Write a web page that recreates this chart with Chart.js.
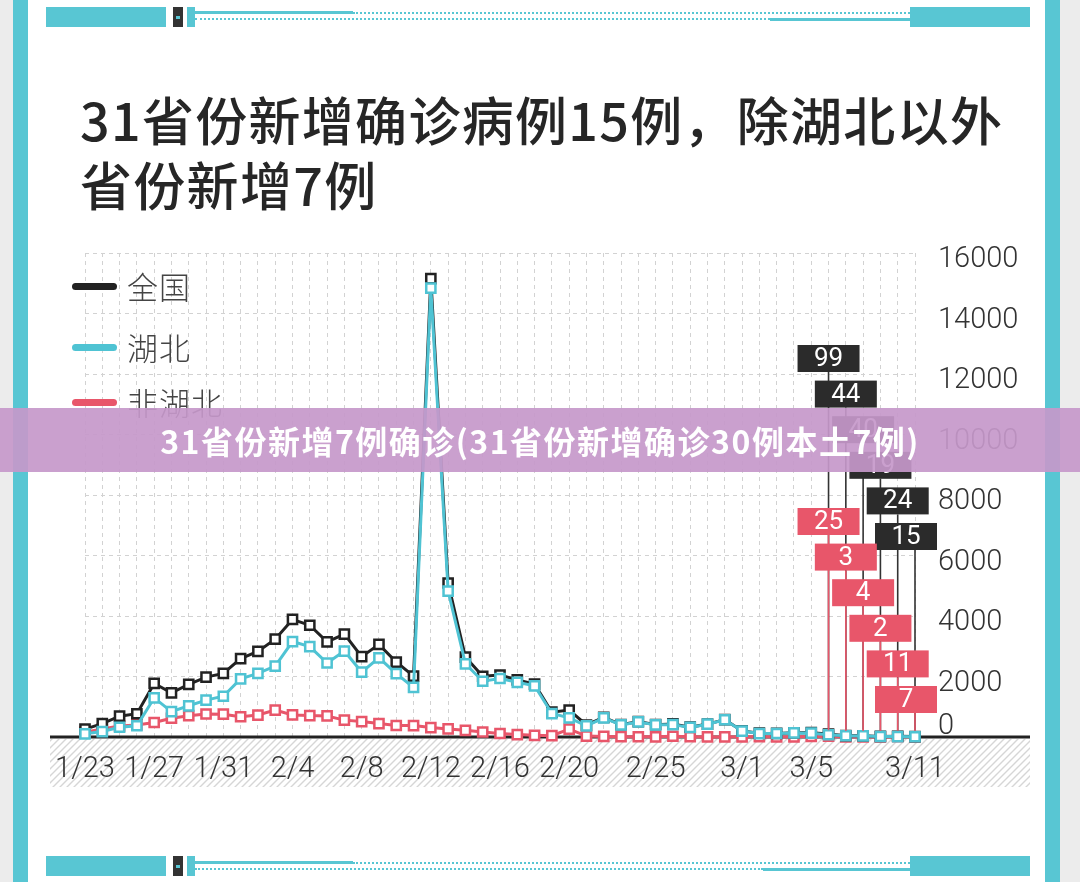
<!DOCTYPE html>
<html>
<head>
<meta charset="utf-8">
<script src="https://cdn.jsdelivr.net/npm/chart.js@4.4.1/dist/chart.umd.min.js"></script>
<style>
  html, body { margin: 0; padding: 0; }
  body { width: 1080px; height: 882px; background: #ececec; position: relative; overflow: hidden;
         font-family: "Noto Sans CJK SC", "Noto Sans", sans-serif; }
  .card { position: absolute; left: 28px; top: 0; width: 1017px; height: 882px; background: #fff; }
  .edge { position: absolute; top: 0; width: 15px; height: 882px; background: #58c6d3; }
  .band { position: absolute; left: 0; width: 1080px; height: 20px; }
  .band div { position: absolute; }
  .blk { background: #58c6d3; top: 0; height: 20px; }
  .ico { background: #333; top: 0; height: 20px; width: 10px; left: 173px; }
  .ico::after { content: ""; position: absolute; left: 3px; top: 9px; width: 4px; height: 3px; background: #58c6d3; }
  .thin { background: #58c6d3; height: 3px; }
  .dots { height: 0; border-top: 2px dotted #58c6d3; }
  .title { position: absolute; left: 80px; top: 86px; font-size: 52px; line-height: 65px;
           font-weight: 500; color: #262626; letter-spacing: 1.3px; }
  .legend { position: absolute; left: 72px; }
  .legend span.ln { position: absolute; left: 0; width: 45px; height: 7px; border-radius: 4px; }
  .legend span.tx { position: absolute; left: 55px; font-size: 31px; font-weight: 300; color: #444;
                    line-height: 40px; white-space: nowrap; letter-spacing: 1px; }
  canvas { position: absolute; left: 0; top: 0; }
  .banner { position: absolute; left: 0; top: 408px; width: 1080px; height: 64px;
            background: rgba(197, 152, 202, 0.92); color: #fff; text-align: center;
            font-size: 32px; font-weight: 700; line-height: 64px; letter-spacing: 1.5px; }
</style>
</head>
<body>
<div class="card"></div>
<div class="edge" style="left:13px"></div>
<div class="edge" style="left:1045px"></div>

<div class="band" style="top:7px">
  <div class="blk" style="left:46px;width:120px"></div>
  <div class="ico"></div>
  <div class="blk" style="left:187px;width:8px"></div>
  <div class="thin" style="left:195px;width:158px;top:4px"></div>
  <div class="dots" style="left:353px;width:557px;top:5px"></div>
  <div class="dots" style="left:195px;width:575px;top:11px"></div>
  <div class="thin" style="left:770px;width:140px;top:11px"></div>
  <div class="blk" style="left:910px;width:120px"></div>
</div>
<div class="band" style="top:856px">
  <div class="blk" style="left:46px;width:120px"></div>
  <div class="ico"></div>
  <div class="blk" style="left:187px;width:8px"></div>
  <div class="thin" style="left:195px;width:158px;top:5px"></div>
  <div class="dots" style="left:353px;width:557px;top:6px"></div>
  <div class="dots" style="left:195px;width:568px;top:12px"></div>
  <div class="thin" style="left:763px;width:147px;top:12px"></div>
  <div class="blk" style="left:910px;width:120px"></div>
</div>

<div class="title">31省份新增确诊病例15例，除湖北以外<br>省份新增7例</div>

<canvas id="covidChart" width="1080" height="882"></canvas>

<div class="legend" style="top:266px">
  <span class="ln" style="top:17px;background:#222"></span><span class="tx">全国</span>
</div>
<div class="legend" style="top:327px">
  <span class="ln" style="top:17px;background:#4fc3d3"></span><span class="tx">湖北</span>
</div>
<div class="legend" style="top:382px">
  <span class="ln" style="top:17px;background:#e8566a"></span><span class="tx">非湖北</span>
</div>

<div class="banner">31省份新增7例确诊(31省份新增确诊30例本土7例)</div>

<script>
// dates on the x axis (1/23 .. 3/11)
const dates = ['1/23','1/24','1/25','1/26','1/27','1/28','1/29','1/30','1/31',
  '2/1','2/2','2/3','2/4','2/5','2/6','2/7','2/8','2/9','2/10','2/11','2/12','2/13','2/14',
  '2/15','2/16','2/17','2/18','2/19','2/20','2/21','2/22','2/23','2/24','2/25','2/26','2/27',
  '2/28','2/29','3/1','3/2','3/3','3/4','3/5','3/6','3/7','3/8','3/9','3/10','3/11'];

// labels actually printed under the axis
const shownDates = ['1/23','1/27','1/31','2/4','2/8','2/12','2/16','2/20','2/25','3/1','3/5','3/11'];

// daily new confirmed cases
const national = [259, 444, 688, 769, 1771, 1459, 1737, 1981, 2102,
  2590, 2829, 3235, 3887, 3694, 3143, 3399, 2656, 3062, 2478, 2015, 15152, 5090, 2641,
  2009, 2048, 1886, 1749, 820, 889, 397, 648, 409, 508, 406, 433, 327,
  427, 573, 202, 125, 119, 139, 143, 99, 44, 40, 19, 24, 15];

const hubei = [105, 180, 323, 371, 1291, 840, 1032, 1220, 1347,
  1921, 2103, 2345, 3156, 2987, 2447, 2841, 2147, 2618, 2097, 1638, 14840, 4823, 2420,
  1843, 1933, 1807, 1693, 775, 631, 366, 630, 398, 499, 401, 409, 318,
  423, 570, 196, 114, 115, 134, 126, 74, 41, 36, 17, 13, 8];

const otherProvinces = [154, 264, 365, 398, 480, 619, 705, 761, 755,
  669, 726, 890, 731, 707, 696, 558, 509, 444, 381, 377, 312, 267, 221,
  166, 115, 79, 56, 45, 258, 31, 18, 11, 9, 5, 24, 9,
  4, 3, 6, 11, 4, 5, 17, 25, 3, 4, 2, 11, 7];

// y axis
const yMin = 0;
const yMax = 16000;
const yStep = 2000;

// how many of the last days get a value box
const boxedDays = 6;

const BLACK = '#222222';
const CYAN = '#4fc3d3';
const RED = '#e8566a';

Chart.defaults.font.family = 'Roboto, "Liberation Sans", sans-serif';
Chart.defaults.color = '#333';

// hatched band under the x axis and the thick black base line
const axisDecor = {
    id: 'axisDecor',
    beforeDraw(chart) {
        const ctx = chart.ctx;
        const y0 = chart.scales.y.getPixelForValue(0);
        const pat = document.createElement('canvas');
        pat.width = 7; pat.height = 7;
        const p = pat.getContext('2d');
        p.strokeStyle = '#d6d6d6';
        p.lineWidth = 1.4;
        p.beginPath();
        p.moveTo(-1, 8); p.lineTo(8, -1);
        p.moveTo(-1, 1); p.lineTo(1, -1);
        p.moveTo(6, 8); p.lineTo(8, 6);
        p.stroke();
        ctx.save();
        ctx.fillStyle = ctx.createPattern(pat, 'repeat');
        ctx.fillRect(50, y0 + 2, 980, 48);
        ctx.restore();
    },
    beforeDatasetsDraw(chart) {
        const ctx = chart.ctx;
        const y0 = chart.scales.y.getPixelForValue(0);
        ctx.save();
        ctx.strokeStyle = BLACK;
        ctx.lineWidth = 3;
        ctx.beginPath();
        ctx.moveTo(50, y0);
        ctx.lineTo(1030, y0);
        ctx.stroke();
        ctx.restore();
    }
};

// staircase of value boxes for the last days
const valueBoxes = {
    id: 'valueBoxes',
    afterDatasetsDraw(chart) {
        const ctx = chart.ctx;
        const xs = chart.scales.x;
        const ys = chart.scales.y;
        const area = chart.chartArea;
        const w = 62, h = 27, step = 35.6;
        const start = dates.length - boxedDays;
        const rightLimit = area.right + 22;

        const boxes = [];
        for (let k = 0; k < boxedDays; k++) {
            const i = start + k;
            const x = xs.getPixelForValue(i);
            let cx = x;
            if (cx + w / 2 > rightLimit) cx = rightLimit - w / 2;
            boxes.push({
                x: x, cx: cx,
                blackTop: area.top + 92 + k * step,
                redTop: area.top + 255 + k * step,
                blackY: ys.getPixelForValue(national[i]),
                redY: ys.getPixelForValue(otherProvinces[i]),
                blackText: String(national[i]),
                redText: String(otherProvinces[i])
            });
        }

        ctx.save();
        ctx.lineWidth = 1.6;
        boxes.forEach(b => {
            ctx.strokeStyle = '#333';
            ctx.beginPath();
            ctx.moveTo(b.x, b.blackTop + h);
            ctx.lineTo(b.x, b.blackY - 6);
            ctx.stroke();
        });
        boxes.forEach(b => {
            ctx.strokeStyle = RED;
            ctx.beginPath();
            ctx.moveTo(b.x, b.redTop + h);
            ctx.lineTo(b.x, b.redY - 6);
            ctx.stroke();
        });

        ctx.font = '26px Roboto, "Liberation Sans", sans-serif';
        ctx.textAlign = 'center';
        ctx.textBaseline = 'middle';
        boxes.forEach(b => {
            ctx.fillStyle = '#2b2b2b';
            ctx.fillRect(b.cx - w / 2, b.blackTop, w, h);
            ctx.fillStyle = '#fff';
            ctx.fillText(b.blackText, b.cx, b.blackTop + h / 2 + 1);
        });
        boxes.forEach(b => {
            ctx.fillStyle = RED;
            ctx.fillRect(b.cx - w / 2, b.redTop, w, h);
            ctx.fillStyle = '#fff';
            ctx.fillText(b.redText, b.cx, b.redTop + h / 2 + 1);
        });
        ctx.restore();
    }
};

const lineStyle = (color) => ({
    borderColor: color,
    borderWidth: 3,
    pointStyle: 'rect',
    pointRadius: 6.5,
    pointBorderWidth: 2.5,
    pointBorderColor: color,
    pointBackgroundColor: '#fff',
    tension: 0,
    fill: false,
    clip: false
});

const ctx = document.getElementById('covidChart').getContext('2d');

new Chart(ctx, {
    type: 'line',
    data: {
        labels: dates,
        datasets: [
            Object.assign({ label: '湖北', data: hubei }, lineStyle(CYAN)),
            Object.assign({ label: '全国', data: national }, lineStyle(BLACK)),
            Object.assign({ label: '非湖北', data: otherProvinces }, lineStyle(RED))
        ]
    },
    options: {
        responsive: false,
        animation: false,
        devicePixelRatio: 1,
        events: [],
        layout: {
            padding: { left: 85, top: 253, right: 45, bottom: 95 }
        },
        plugins: {
            legend: { display: false },
            tooltip: { enabled: false }
        },
        scales: {
            x: {
                type: 'category',
                offset: false,
                afterFit(scale) { scale.height = 50; },
                grid: {
                    color: '#d2d2d2',
                    lineWidth: 1,
                    drawTicks: false
                },
                border: { display: false, dash: [4, 4] },
                ticks: {
                    autoSkip: false,
                    maxRotation: 0,
                    padding: 15,
                    color: '#333',
                    font: { size: 29, weight: 300 },
                    callback: function (value) {
                        const lbl = this.getLabelForValue(value);
                        return shownDates.includes(lbl) ? lbl : '';
                    }
                }
            },
            y: {
                position: 'right',
                min: yMin,
                max: yMax,
                afterFit(scale) { scale.width = 120; },
                grid: {
                    color: '#d2d2d2',
                    lineWidth: 1,
                    drawTicks: false
                },
                border: { display: false, dash: [4, 4] },
                ticks: {
                    stepSize: yStep,
                    autoSkip: false,
                    padding: 23,
                    labelOffset: 7,
                    color: '#333',
                    font: { size: 29, weight: 300 },
                    callback: value => value === 0 ? ['0', ''] : String(value)
                }
            }
        }
    },
    plugins: [axisDecor, valueBoxes]
});
</script>
</body>
</html>
